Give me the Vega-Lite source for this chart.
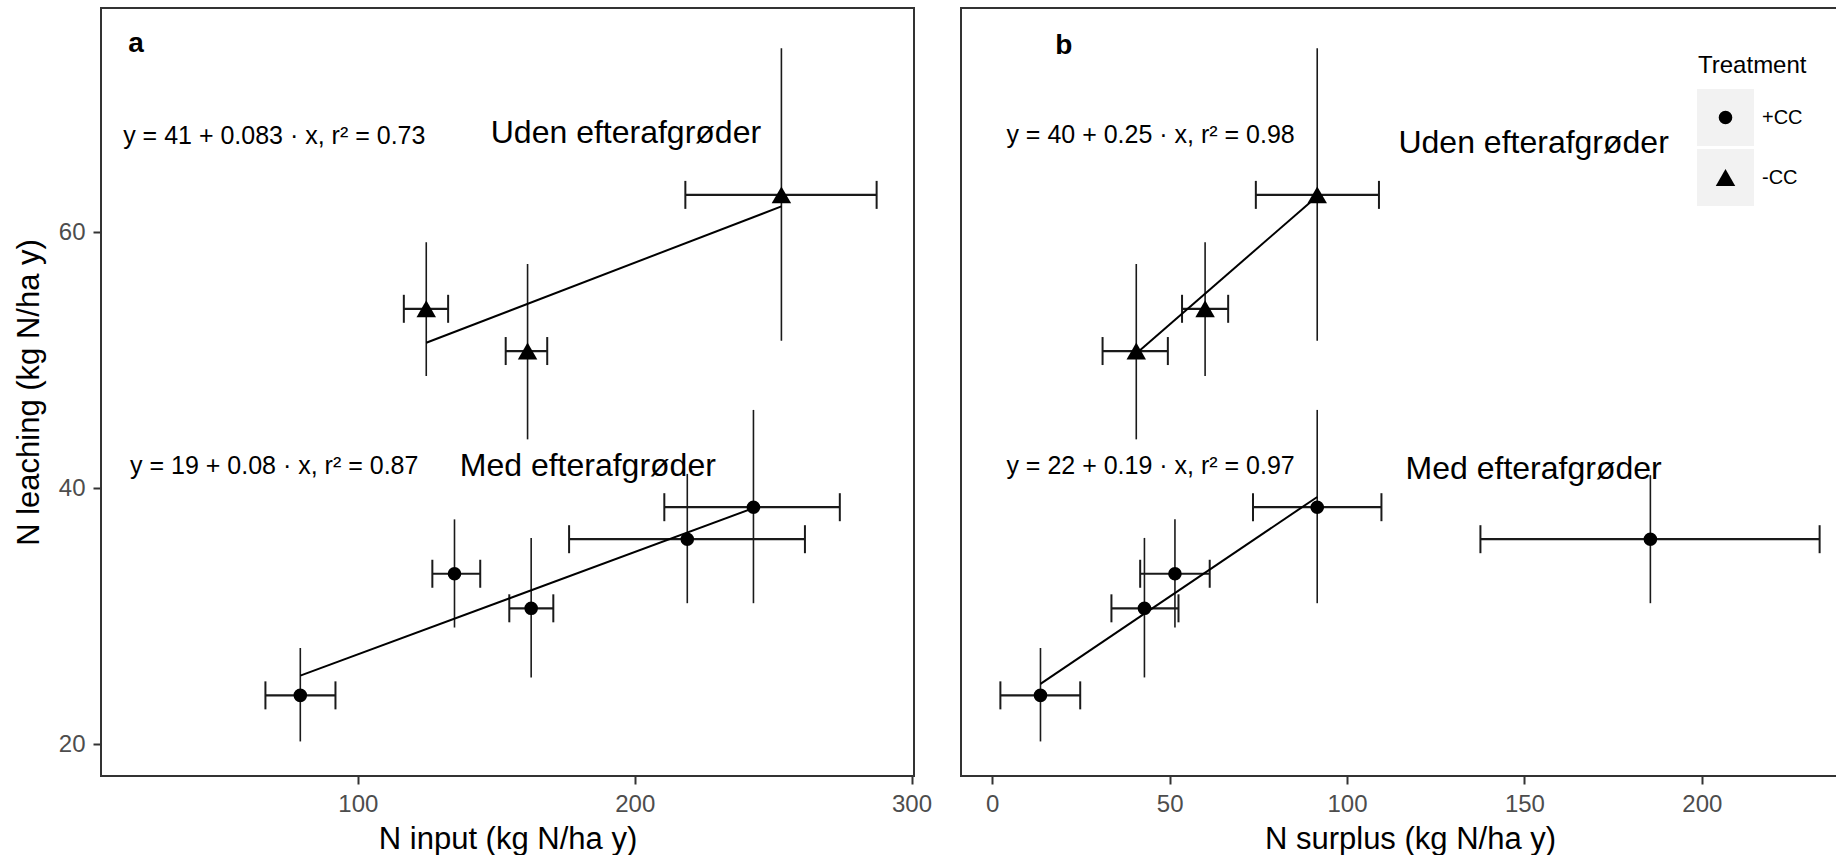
{
  "$schema": "https://vega.github.io/schema/vega-lite/v6.json",
  "background": "white",
  "padding": {"left": 12, "top": 7, "right": 0, "bottom": 0},
  "spacing": 27,
  "config": {
    "font": "Liberation Sans",
    "view": {"stroke": "#333333", "strokeWidth": 2},
    "axis": {
      "grid": false, "domain": false,
      "tickColor": "#333333", "tickWidth": 2, "tickSize": 8,
      "labelFontSize": 24, "labelColor": "#4d4d4d", "labelPadding": 8,
      "titleFontSize": 31, "titleFontWeight": "normal", "titleColor": "black", "titlePadding": 8
    }
  },
  "resolve": {
    "scale": {"shape": "independent", "size": "independent", "fill": "independent"},
    "legend": {"shape": "independent", "size": "independent", "fill": "independent"}
  },
  "datasets": {
    "inputPts": [
      {"Treatment": "-CC", "x": 124.7, "y": 54.0, "xmin": 116.6, "xmax": 132.6, "ymin": 48.75, "ymax": 59.2},
      {"Treatment": "-CC", "x": 161.3, "y": 50.7, "xmin": 153.4, "xmax": 168.4, "ymin": 43.8, "ymax": 57.5},
      {"Treatment": "-CC", "x": 253.0, "y": 62.9, "xmin": 218.3, "xmax": 287.4, "ymin": 51.5, "ymax": 74.35},
      {"Treatment": "+CC", "x": 79.2, "y": 23.8, "xmin": 66.6, "xmax": 91.9, "ymin": 20.2, "ymax": 27.5},
      {"Treatment": "+CC", "x": 134.9, "y": 33.3, "xmin": 126.9, "xmax": 144.2, "ymin": 29.1, "ymax": 37.55},
      {"Treatment": "+CC", "x": 162.6, "y": 30.6, "xmin": 154.7, "xmax": 170.6, "ymin": 25.2, "ymax": 36.1},
      {"Treatment": "+CC", "x": 219.0, "y": 36.0, "xmin": 176.3, "xmax": 261.5, "ymin": 31.0, "ymax": 41.1},
      {"Treatment": "+CC", "x": 242.9, "y": 38.5, "xmin": 210.7, "xmax": 274.1, "ymin": 31.0, "ymax": 46.1}
    ],
    "surplusPts": [
      {"Treatment": "-CC", "x": 40.6, "y": 50.7, "xmin": 31.1, "xmax": 49.5, "ymin": 43.8, "ymax": 57.5},
      {"Treatment": "-CC", "x": 60.0, "y": 54.0, "xmin": 53.5, "xmax": 66.5, "ymin": 48.75, "ymax": 59.2},
      {"Treatment": "-CC", "x": 91.6, "y": 62.9, "xmin": 74.3, "xmax": 109.0, "ymin": 51.5, "ymax": 74.35},
      {"Treatment": "+CC", "x": 13.6, "y": 23.8, "xmin": 2.3, "xmax": 24.8, "ymin": 20.2, "ymax": 27.5},
      {"Treatment": "+CC", "x": 42.9, "y": 30.6, "xmin": 33.6, "xmax": 52.5, "ymin": 25.2, "ymax": 36.1},
      {"Treatment": "+CC", "x": 51.5, "y": 33.3, "xmin": 41.7, "xmax": 61.3, "ymin": 29.1, "ymax": 37.55},
      {"Treatment": "+CC", "x": 91.6, "y": 38.5, "xmin": 73.5, "xmax": 109.7, "ymin": 31.0, "ymax": 46.1},
      {"Treatment": "+CC", "x": 185.5, "y": 36.0, "xmin": 137.6, "xmax": 233.2, "ymin": 31.0, "ymax": 41.0}
    ],
    "inputFit": [
      {"Treatment": "-CC", "x": 124.7, "y": 51.35},
      {"Treatment": "-CC", "x": 253.0, "y": 62.0},
      {"Treatment": "+CC", "x": 79.2, "y": 25.34},
      {"Treatment": "+CC", "x": 242.9, "y": 38.43}
    ],
    "surplusFit": [
      {"Treatment": "-CC", "x": 40.6, "y": 50.5},
      {"Treatment": "-CC", "x": 91.6, "y": 62.8},
      {"Treatment": "+CC", "x": 13.6, "y": 24.7},
      {"Treatment": "+CC", "x": 91.6, "y": 39.3}
    ],
    "inputEq": [
      {"x": 15.2, "y": 66.85, "label": "y = 41 + 0.083 · x,  r² = 0.73"},
      {"x": 17.7, "y": 41.07, "label": "y = 19 + 0.08 · x,  r² = 0.87"}
    ],
    "inputGrp": [
      {"x": 148.0, "y": 66.98, "label": "Uden efterafgrøder"},
      {"x": 136.8, "y": 40.94, "label": "Med efterafgrøder"}
    ],
    "surplusEq": [
      {"x": 4.0, "y": 66.98, "label": "y = 40 + 0.25 · x,  r² = 0.98"},
      {"x": 4.0, "y": 41.07, "label": "y = 22 + 0.19 · x,  r² = 0.97"}
    ],
    "surplusGrp": [
      {"x": 114.5, "y": 66.2, "label": "Uden efterafgrøder"},
      {"x": 116.5, "y": 40.7, "label": "Med efterafgrøder"}
    ],
    "letterA": [{"x": 19.9, "y": 74.7, "label": "a"}],
    "letterB": [{"x": 20.2, "y": 74.5, "label": "b"}]
  },
  "hconcat": [
    {
      "width": 813,
      "height": 768,
      "encoding": {
        "x": {"type": "quantitative", "scale": {"domain": [7.2, 300.9], "nice": false, "zero": false},
              "axis": {"values": [100, 200, 300], "title": "N input (kg N/ha y)"}},
        "y": {"type": "quantitative", "scale": {"domain": [17.5, 77.5], "nice": false, "zero": false},
              "axis": {"values": [20, 40, 60], "title": "N leaching (kg N/ha y)", "titlePadding": 13}}
      },
      "layer": [
        {
          "data": {"name": "inputPts"},
          "mark": {"type": "rule", "color": "#1a1a1a", "strokeWidth": 1.6},
          "encoding": {"x": {"field": "x"}, "y": {"field": "ymin"}, "y2": {"field": "ymax"}}
        },
        {
          "data": {"name": "inputPts"},
          "mark": {"type": "rule", "color": "#1a1a1a", "strokeWidth": 2.2},
          "encoding": {"x": {"field": "xmin"}, "x2": {"field": "xmax"}, "y": {"field": "y"}}
        },
        {
          "data": {"name": "inputPts"},
          "mark": {"type": "tick", "orient": "vertical", "size": 28, "thickness": 2, "color": "#1a1a1a", "opacity": 1},
          "encoding": {"x": {"field": "xmin"}, "y": {"field": "y"}}
        },
        {
          "data": {"name": "inputPts"},
          "mark": {"type": "tick", "orient": "vertical", "size": 28, "thickness": 2, "color": "#1a1a1a", "opacity": 1},
          "encoding": {"x": {"field": "xmax"}, "y": {"field": "y"}}
        },
        {
          "data": {"name": "inputFit"},
          "mark": {"type": "line", "color": "black", "strokeWidth": 2},
          "encoding": {"x": {"field": "x"}, "y": {"field": "y"}, "detail": {"field": "Treatment", "type": "nominal"}}
        },
        {
          "data": {"name": "inputPts"},
          "mark": {"type": "point", "filled": true, "color": "black", "opacity": 1, "strokeWidth": 0},
          "encoding": {
            "x": {"field": "x"}, "y": {"field": "y"},
            "shape": {"field": "Treatment", "type": "nominal", "scale": {"range": ["circle", "triangle-up"]}, "legend": null},
            "size": {"field": "Treatment", "type": "nominal", "scale": {"type": "ordinal", "range": [185, 380]}, "legend": null}
          }
        },
        {
          "data": {"name": "inputEq"},
          "mark": {"type": "text", "align": "left", "baseline": "alphabetic", "fontSize": 25, "color": "black"},
          "encoding": {"x": {"field": "x"}, "y": {"field": "y"}, "text": {"field": "label"}}
        },
        {
          "data": {"name": "inputGrp"},
          "mark": {"type": "text", "align": "left", "baseline": "alphabetic", "fontSize": 32, "color": "black"},
          "encoding": {"x": {"field": "x"}, "y": {"field": "y"}, "text": {"field": "label"}}
        },
        {
          "data": {"name": "letterA"},
          "mark": {"type": "text", "align": "center", "baseline": "middle", "fontSize": 28, "fontWeight": "bold", "color": "black"},
          "encoding": {"x": {"field": "x"}, "y": {"field": "y"}, "text": {"field": "label"}}
        }
      ]
    },
    {
      "width": 876,
      "height": 768,
      "encoding": {
        "x": {"type": "quantitative", "scale": {"domain": [-8.8, 238.1], "nice": false, "zero": false},
              "axis": {"values": [0, 50, 100, 150, 200], "title": "N surplus (kg N/ha y)", "titleX": 449}},
        "y": {"type": "quantitative", "scale": {"domain": [17.5, 77.5], "nice": false, "zero": false}, "axis": null}
      },
      "layer": [
        {
          "data": {"name": "surplusPts"},
          "mark": {"type": "point", "shape": "square", "filled": true, "opacity": 0},
          "encoding": {
            "x": {"field": "x"}, "y": {"field": "y"},
            "fill": {"field": "Treatment", "type": "nominal",
                     "scale": {"domain": ["+CC", "-CC"], "range": ["#f2f2f2", "#f2f2f2"]},
                     "legend": {"title": null, "orient": "none", "legendX": 736, "legendY": 81, "padding": 0,
                                "symbolType": "square", "symbolSize": 3249, "symbolOpacity": 1, "symbolStrokeWidth": 0,
                                "rowPadding": 3, "labelExpr": "''", "zindex": 0}}
          }
        },
        {
          "data": {"name": "surplusPts"},
          "mark": {"type": "rule", "color": "#1a1a1a", "strokeWidth": 1.6},
          "encoding": {"x": {"field": "x"}, "y": {"field": "ymin"}, "y2": {"field": "ymax"}}
        },
        {
          "data": {"name": "surplusPts"},
          "mark": {"type": "rule", "color": "#1a1a1a", "strokeWidth": 2.2},
          "encoding": {"x": {"field": "xmin"}, "x2": {"field": "xmax"}, "y": {"field": "y"}}
        },
        {
          "data": {"name": "surplusPts"},
          "mark": {"type": "tick", "orient": "vertical", "size": 28, "thickness": 2, "color": "#1a1a1a", "opacity": 1},
          "encoding": {"x": {"field": "xmin"}, "y": {"field": "y"}}
        },
        {
          "data": {"name": "surplusPts"},
          "mark": {"type": "tick", "orient": "vertical", "size": 28, "thickness": 2, "color": "#1a1a1a", "opacity": 1},
          "encoding": {"x": {"field": "xmax"}, "y": {"field": "y"}}
        },
        {
          "data": {"name": "surplusFit"},
          "mark": {"type": "line", "color": "black", "strokeWidth": 2},
          "encoding": {"x": {"field": "x"}, "y": {"field": "y"}, "detail": {"field": "Treatment", "type": "nominal"}}
        },
        {
          "data": {"name": "surplusPts"},
          "mark": {"type": "point", "filled": true, "color": "black", "opacity": 1, "strokeWidth": 0},
          "encoding": {
            "x": {"field": "x"}, "y": {"field": "y"},
            "shape": {"field": "Treatment", "type": "nominal", "scale": {"range": ["circle", "triangle-up"]},
                      "legend": {"title": "Treatment", "orient": "none", "legendX": 737, "legendY": 46, "padding": 0,
                                 "titleFontSize": 24, "titleFontWeight": "normal", "titleColor": "black", "titlePadding": 11,
                                 "labelFontSize": 20, "labelColor": "black", "clipHeight": 57, "rowPadding": 3,
                                 "symbolSize": 220, "symbolOffset": 17, "labelOffset": 26, "zindex": 1}},
            "size": {"field": "Treatment", "type": "nominal", "scale": {"type": "ordinal", "range": [185, 380]}}
          }
        },
        {
          "data": {"name": "surplusEq"},
          "mark": {"type": "text", "align": "left", "baseline": "alphabetic", "fontSize": 25, "color": "black"},
          "encoding": {"x": {"field": "x"}, "y": {"field": "y"}, "text": {"field": "label"}}
        },
        {
          "data": {"name": "surplusGrp"},
          "mark": {"type": "text", "align": "left", "baseline": "alphabetic", "fontSize": 32, "color": "black"},
          "encoding": {"x": {"field": "x"}, "y": {"field": "y"}, "text": {"field": "label"}}
        },
        {
          "data": {"name": "letterB"},
          "mark": {"type": "text", "align": "center", "baseline": "middle", "fontSize": 28, "fontWeight": "bold", "color": "black"},
          "encoding": {"x": {"field": "x"}, "y": {"field": "y"}, "text": {"field": "label"}}
        }
      ]
    }
  ]
}
